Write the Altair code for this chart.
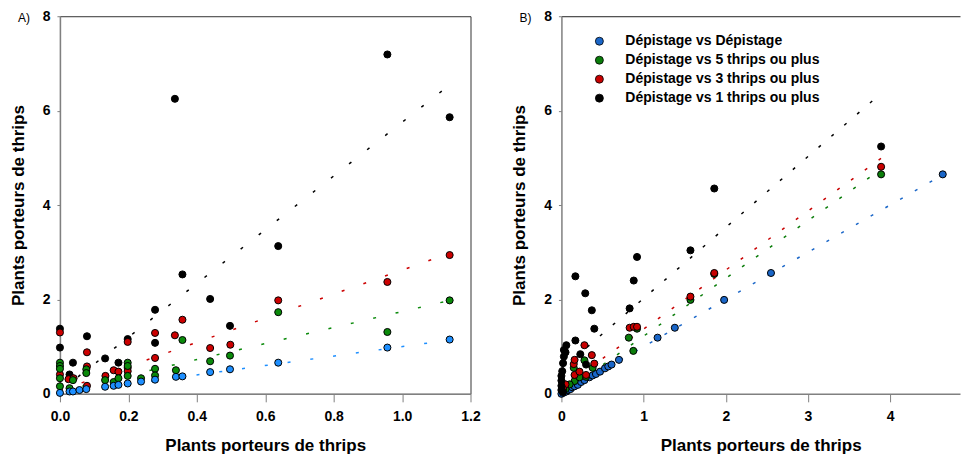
import altair as alt
import pandas as pd

FONT = "Liberation Sans"
SERIES = ["Dépistage vs Dépistage", "Dépistage vs 5 thrips ou plus",
          "Dépistage vs 3 thrips ou plus", "Dépistage vs 1 thrips ou plus"]
COLORS_A = ["#1e8fff", "#0a8a0a", "#cc0000", "#000000"]
COLORS_B = ["#1a66c8", "#0a7d0a", "#c80000", "#000000"]
AXIS_TITLE = "Plants porteurs de thrips"

# ---------------- Panel A points ----------------
a_black_x = [0, 0, 0.028, 0.038, 0.079, 0.132, 0.171, 0.198, 0.278, 0.278, 0.336, 0.358, 0.439, 0.497, 0.638, 0.957, 1.139]
a_black_y = [1.38, 0.98, 0.41, 0.66, 1.22, 0.75, 0.66, 1.16, 1.78, 1.08, 6.25, 2.53, 2.01, 1.44, 3.13, 7.19, 5.86]

a_red_x = [0, 0, 0.025, 0.04, 0.079, 0.079, 0.079, 0.133, 0.157, 0.171, 0.198, 0.198, 0.198, 0.278, 0.278, 0.336, 0.358, 0.439, 0.498, 0.638, 0.957, 1.139]
a_red_y = [1.30, 0.41, 0.31, 0.33, 0.88, 0.58, 0.17, 0.38, 0.50, 0.47, 1.10, 0.55, 0.48, 1.29, 0.76, 1.24, 1.57, 0.97, 1.04, 1.98, 2.37, 2.94]

a_green_x = [0, 0, 0, 0, 0, 0.028, 0.038, 0.077, 0.077, 0.132, 0.157, 0.171, 0.198, 0.198, 0.198, 0.237, 0.278, 0.278, 0.339, 0.358, 0.439, 0.497, 0.638, 0.957, 1.139]
a_green_y = [0.66, 0.59, 0.53, 0.33, 0.16, 0.12, 0.29, 0.52, 0.44, 0.29, 0.25, 0.33, 0.66, 0.59, 0.38, 0.33, 0.53, 0.39, 0.50, 1.14, 0.69, 0.81, 1.73, 1.31, 1.98]

a_blue_x = [0, 0.028, 0.038, 0.057, 0.077, 0.132, 0.157, 0.171, 0.198, 0.237, 0.278, 0.339, 0.358, 0.439, 0.497, 0.638, 0.957, 1.139]
a_blue_y = [0.02, 0.05, 0.05, 0.08, 0.10, 0.15, 0.17, 0.19, 0.22, 0.26, 0.30, 0.36, 0.37, 0.46, 0.52, 0.66, 0.98, 1.15]

# Panel A fitted lines (start / end), order = SERIES
a_fit_x0 = [0, 0, 0, 0]
a_fit_y0 = [0.0, 0.05, 0.07, 0.06]
a_fit_x1 = [1.14, 1.14, 1.14, 1.14]
a_fit_y1 = [1.14, 1.98, 2.98, 6.55]

# ---------------- Panel B points ----------------
b_black_x = [3.89, 1.86, 1.57, 0.92, 0.17, 0.29, 0.88, 0.37, 0.83, 0.40, 0.17, 0.06, 0.03, 0.23, 0.03, 0.30, 0.02, 0.01, 0.0, 0.0, 0.0, 0.0, 0.02, 0.05]
b_black_y = [5.24, 4.35, 3.04, 2.90, 2.49, 2.13, 2.40, 1.77, 1.81, 1.38, 1.13, 1.03, 0.93, 0.84, 0.79, 0.62, 0.65, 0.48, 0.38, 0.28, 0.17, 0.08, 0.04, 0.88]

b_red_x = [3.89, 1.86, 1.57, 0.83, 0.88, 0.92, 0.28, 0.37, 0.15, 0.40, 0.16, 0.22, 0.30, 0.16, 0.05, 0.02]
b_red_y = [4.81, 2.56, 2.06, 1.40, 1.42, 1.42, 1.03, 0.82, 0.63, 0.64, 0.40, 0.47, 0.40, 0.72, 0.20, 0.10]

b_green_x = [3.89, 1.86, 1.57, 0.82, 0.875, 0.92, 0.28, 0.38, 0.16, 0.15, 0.22, 0.30, 0.05, 0.10]
b_green_y = [4.65, 2.54, 1.99, 1.19, 0.91, 1.38, 0.71, 0.55, 0.27, 0.55, 0.35, 0.36, 0.10, 0.20]

b_blue_x = [0, 0.02, 0.04, 0.06, 0.08, 0.11, 0.13, 0.16, 0.20, 0.24, 0.28, 0.34, 0.38, 0.42, 0.47, 0.53, 0.57, 0.61, 0.70, 1.17, 1.38, 1.98, 2.55, 4.64]
b_blue_y = [0, 0.02, 0.04, 0.05, 0.08, 0.10, 0.14, 0.16, 0.19, 0.25, 0.29, 0.35, 0.39, 0.42, 0.47, 0.54, 0.58, 0.62, 0.72, 1.19, 1.40, 1.99, 2.56, 4.65]

b_fit_x0 = [0, 0, 0, 0]
b_fit_y0 = [0.0, 0.0, 0.12, 0.52]
b_fit_x1 = [4.65, 3.9, 3.9, 3.9]
b_fit_y1 = [4.65, 4.77, 5.00, 6.38]


def points_df(groups):
    frames = []
    for xs, ys, name in groups:
        frames.append(pd.DataFrame({"x": xs, "y": ys, "serie": name}))
    return pd.concat(frames, ignore_index=True)


pts_a = points_df([(a_black_x, a_black_y, SERIES[3]), (a_red_x, a_red_y, SERIES[2]),
                   (a_green_x, a_green_y, SERIES[1]), (a_blue_x, a_blue_y, SERIES[0])])
pts_b = points_df([(b_blue_x, b_blue_y, SERIES[0]), (b_green_x, b_green_y, SERIES[1]),
                   (b_red_x, b_red_y, SERIES[2]), (b_black_x, b_black_y, SERIES[3])])

HEIGHT = 378


def panel(pts, fits, colors, xdomain, xvalues, xfmt, width, legend, tag, dash, top_line):
    x0, y0, x1, y1 = fits
    xscale = alt.Scale(domain=xdomain, nice=False, zero=False)
    yscale = alt.Scale(domain=[0, 8], nice=False)
    xaxis = alt.Axis(title=AXIS_TITLE, values=xvalues, format=xfmt, grid=False, labelFlush=False,
                     tickSize=8, labelPadding=8, titlePadding=14)
    yaxis = alt.Axis(title=AXIS_TITLE, values=[0, 2, 4, 6, 8], format="d", grid=False,
                     tickSize=3, labelPadding=7, titlePadding=15)
    layers = []
    # one dotted fit line per series, each with its own colour
    for i in range(len(SERIES)):
        seg = pd.DataFrame({"x": [x0[i], x1[i]], "y": [y0[i], y1[i]]})
        layers.append(
            alt.Chart(seg).mark_line(strokeDash=dash, strokeWidth=1.5, strokeCap="butt",
                                     color=colors[i]).encode(
                x=alt.X("x:Q", scale=xscale, axis=xaxis),
                y=alt.Y("y:Q", scale=yscale, axis=yaxis),
            )
        )
    points = alt.Chart(pts).mark_circle(size=50, opacity=1, stroke="black", strokeWidth=1).encode(
        x=alt.X("x:Q", scale=xscale, axis=xaxis),
        y=alt.Y("y:Q", scale=yscale, axis=yaxis),
        fill=alt.Fill("serie:N", scale=alt.Scale(domain=SERIES, range=colors), legend=legend),
    )
    layers.append(points)
    label = alt.Chart(pd.DataFrame({"t": [tag]})).mark_text(
        align="left", baseline="middle", fontSize=12, font=FONT, color="black"
    ).encode(text="t:N", x=alt.value(-42), y=alt.value(2))
    layers.append(label)
    base = alt.layer(*layers)
    if top_line:
        seg = pd.DataFrame({"x": [x0[0], x1[0]], "y": [y0[0], y1[0]]})
        top = alt.Chart(seg).mark_line(strokeOpacity=0).encode(
            x=alt.X("x:Q", scale=xscale,
                    axis=alt.Axis(orient="top", labels=False, ticks=False, title=None,
                                  grid=False, domainColor="#222222", domainWidth=1)),
            y=alt.Y("y:Q", scale=yscale, axis=yaxis),
        )
        return alt.layer(base, top).resolve_axis(x="independent").properties(
            width=width, height=HEIGHT, view=alt.ViewBackground(stroke="transparent"))
    return base.properties(width=width, height=HEIGHT)


legend_b = alt.Legend(title=None, orient="none", legendX=31, legendY=18,
                      labelFont=FONT, labelFontSize=14, labelFontWeight="bold", labelColor="black",
                      labelLimit=400,
                      symbolType="circle", symbolSize=64, symbolStrokeColor="black",
                      symbolStrokeWidth=0.8, symbolOpacity=1, rowPadding=5, labelOffset=19,
                      padding=0)

chart_a = panel(pts_a, (a_fit_x0, a_fit_y0, a_fit_x1, a_fit_y1), COLORS_A, [0, 1.2],
                [0, 0.2, 0.4, 0.6, 0.8, 1.0, 1.2], ".1f", 411, None, "A)", [3, 20], False)
chart_b = panel(pts_b, (b_fit_x0, b_fit_y0, b_fit_x1, b_fit_y1), COLORS_B, [0, 4.85],
                [0, 1, 2, 3, 4], "d", 399, legend_b, "B)", [3, 14], True)

chart = alt.hconcat(chart_a, chart_b, spacing=91, bounds="flush").resolve_scale(
    x="independent", y="independent", fill="independent"
).properties(
    padding={"left": 0, "top": 0, "right": 0, "bottom": 0}
).configure_view(
    stroke="#333333", strokeWidth=1
).configure_axis(
    labelFont=FONT, labelFontSize=14, labelFontWeight="bold", labelColor="black",
    titleFont=FONT, titleFontSize=17, titleFontWeight="bold", titleColor="black",
    domainColor="#808080", domainWidth=1.5, tickColor="#808080", tickWidth=1
)

chart.save("out.html", embed_options={"renderer": "svg", "actions": False})
